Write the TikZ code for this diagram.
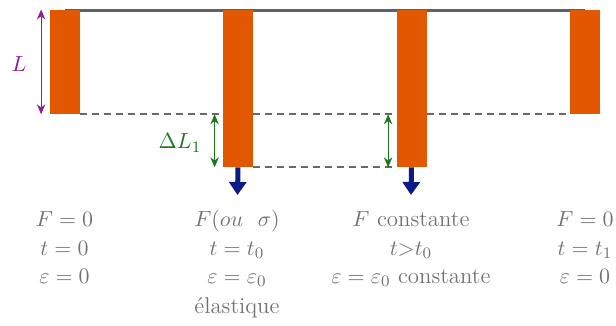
\documentclass[tikz,border=0pt]{standalone}
\usetikzlibrary{arrows.meta,backgrounds}
\definecolor{barorange}{RGB}{226,88,0}
\definecolor{topgray}{RGB}{92,98,108}
\definecolor{dashgray}{RGB}{105,105,105}
\definecolor{lpurple}{RGB}{145,30,145}
\definecolor{dgreen}{RGB}{25,120,25}
\definecolor{forceblue}{RGB}{12,25,135}
\definecolor{txtgray}{RGB}{115,115,115}
\begin{document}
\begin{tikzpicture}[x=0.5pt,y=-0.5pt,
  bar/.style={fill=barorange, draw=none, inner sep=0, minimum width=15pt, anchor=north},
  topline/.style={draw=topgray, line width=1.1pt},
  level/.style={draw=dashgray, line width=1pt, dash pattern=on 3.5pt off 2.5pt},
  dimL/.style={draw=lpurple, line width=0.5pt, {Stealth[length=5pt,width=4.2pt]}-{Stealth[length=5pt,width=4.2pt]}},
  dimD/.style={draw=dgreen, line width=0.5pt, {Stealth[length=5pt,width=4.2pt]}-{Stealth[length=5pt,width=4.2pt]}},
  force/.style={draw=forceblue, line width=2.5pt, -{Triangle[length=6.5pt,width=8.5pt]}},
  lbl/.style={font=\fontsize{11.4}{14}\selectfont, inner sep=0},
  txt/.style={font=\fontsize{11.4}{14}\selectfont, text=txtgray, anchor=base, inner sep=0}]
\useasboundingbox (0,0) rectangle (616,326);
% bars
\node[bar, minimum height=52pt]   (b1) at (64.5,9.5) {};
\node[bar, minimum height=78.5pt] (b2) at (238,9.5) {};
\node[bar, minimum height=78.5pt] (b3) at (411.5,9.5) {};
\node[bar, minimum height=52pt]   (b4) at (584.5,9.5) {};
\begin{scope}[on background layer]
\draw[topline] ([yshift=-0.55pt]b1.north) -- ([yshift=-0.55pt]b4.north);
\end{scope}
% level lines
\draw[level] (b1.south east) -- (b1.south east -| b2.west);
\draw[level] (b1.south east -| b2.east) -- (b1.south east -| b3.west);
\draw[level] (b1.south east -| b3.east) -- (b4.south west);
\draw[level] (b2.south east) -- (b3.south west);
% dimension arrows
\coordinate (La) at ([xshift=-4pt]b1.north west);
\coordinate (Lb) at ([xshift=-4pt]b1.south west);
\draw[dimL] (La) -- (Lb);
\node[lbl, text=lpurple] (Ltext) at (19,64) {$L$};
\coordinate (Da) at ([xshift=-4pt]b1.south -| b2.west);
\coordinate (Db) at ([xshift=-4pt]b2.south west);
\draw[dimD] (Da) -- (Db);
\node[lbl, text=dgreen] (Dtext) at (180,143) {$\Delta L_1$};
\coordinate (Ea) at ([xshift=-4pt]b1.south -| b3.west);
\coordinate (Eb) at ([xshift=-4pt]b3.south west);
\draw[dimD] (Ea) -- (Eb);
% forces
\coordinate (f2) at (237.5,195);
\coordinate (f3) at (411,195);
\draw[force] (b2.south) -- (f2);
\draw[force] (b3.south) -- (f3);
% texts
\node[txt] (c1a) at (64.5,227) {$F=0$};
\node[txt] (c1b) at (64.5,255) {$t=0$};
\node[txt] (c1c) at (64.5,283) {$\varepsilon=0$};
\node[txt] (c2a) at (237,227) {$F(ou~~\sigma)$};
\node[txt] (c2b) at (237,255) {$t=t_0$};
\node[txt] (c2c) at (237,283) {$\varepsilon=\varepsilon_0$};
\node[txt] (c2d) at (237,313) {élastique};
\node[txt] (c3a) at (411,227) {$F$ constante};
\node[txt] (c3b) at (411,255) {$t{>}t_0$};
\node[txt] (c3c) at (411,283) {$\varepsilon=\varepsilon_0$ constante};
\node[txt] (c4a) at (585,227) {$F=0$};
\node[txt] (c4b) at (585,255) {$t=t_1$};
\node[txt] (c4c) at (585,283) {$\varepsilon=0$};
\end{tikzpicture}
\end{document}
